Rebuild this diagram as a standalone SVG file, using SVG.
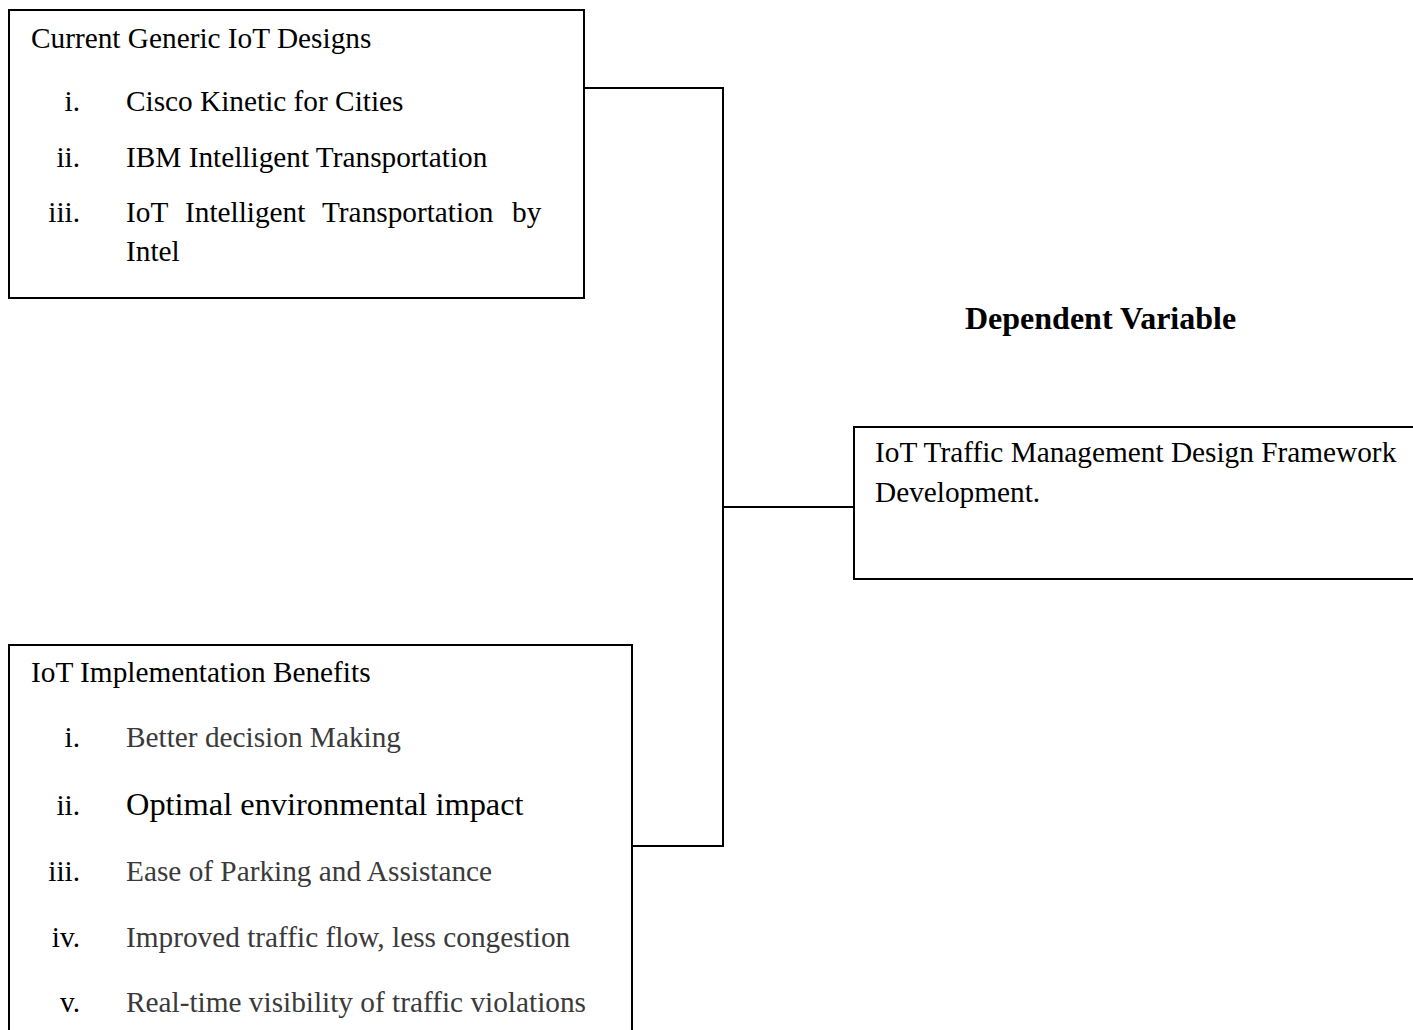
<svg xmlns="http://www.w3.org/2000/svg" width="1413" height="1030" viewBox="0 0 1413 1030">
<style>
.box{fill:#fff;stroke:#000;stroke-width:2}
.t{font-family:"Liberation Serif","Times New Roman",serif;font-size:29.3px;fill:#000}
.g{fill:#3a3a3a}
.n{text-anchor:end}
.b{font-weight:bold;font-size:32px}
.conn{fill:none;stroke:#000;stroke-width:2}
</style>
<rect width="1413" height="1030" fill="#fff"/>
<g id="connectors">
<polyline class="conn" points="584,88 723,88 723,846 632,846"/>
<line class="conn" x1="723" y1="507" x2="854" y2="507"/>
</g>
<g id="node-generic">
<rect class="box" x="9" y="10" width="575" height="288"/>
<text class="t" x="31" y="48">Current Generic IoT Designs</text>
<text class="t n" x="80" y="111">i.</text>
<text class="t" x="126" y="111">Cisco Kinetic for Cities</text>
<text class="t n" x="80" y="167">ii.</text>
<text class="t" x="126" y="167">IBM Intelligent Transportation</text>
<text class="t n" x="80" y="222">iii.</text>
<text class="t" y="222"><tspan x="126">IoT</tspan><tspan x="185">Intelligent</tspan><tspan x="322">Transportation</tspan><tspan x="512">by</tspan></text>
<text class="t" x="126" y="261">Intel</text>
</g>
<g id="label-dependent">
<text class="t b" x="965" y="329">Dependent Variable</text>
</g>
<g id="node-framework">
<rect class="box" x="854" y="427" width="570" height="152"/>
<text class="t" x="875" y="462">IoT Traffic Management Design Framework</text>
<text class="t" x="875" y="502">Development.</text>
</g>
<g id="node-benefits">
<rect class="box" x="9" y="645" width="623" height="400"/>
<text class="t" x="31" y="682">IoT Implementation Benefits</text>
<text class="t n" x="80" y="747">i.</text>
<text class="t g" x="126" y="747">Better decision Making</text>
<text class="t n" x="80" y="815">ii.</text>
<text class="t" x="126" y="815" style="font-size:32.4px">Optimal environmental impact</text>
<text class="t n" x="80" y="881">iii.</text>
<text class="t g" x="126" y="881">Ease of Parking and Assistance</text>
<text class="t n" x="80" y="947">iv.</text>
<text class="t g" x="126" y="947">Improved traffic flow, less congestion</text>
<text class="t n" x="80" y="1012">v.</text>
<text class="t g" x="126" y="1012">Real-time visibility of traffic violations</text>
</g>
</svg>
